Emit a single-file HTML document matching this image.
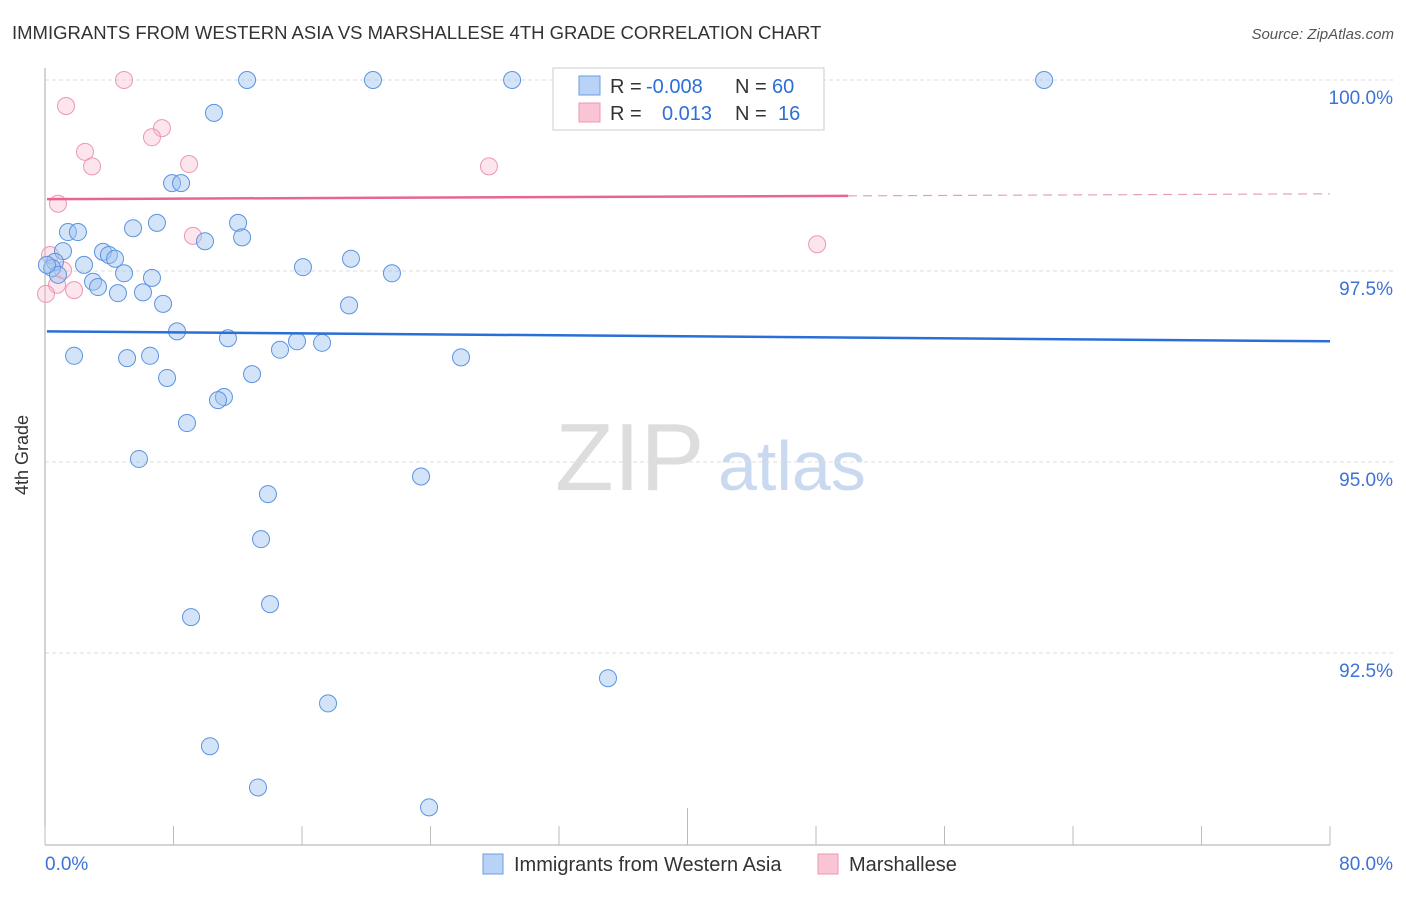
<!DOCTYPE html>
<html><head><meta charset="utf-8"><style>
body{margin:0;background:#fff;font-family:"Liberation Sans",sans-serif;}
svg text{font-family:"Liberation Sans",sans-serif;}
</style></head><body>
<svg id="chart" width="1406" height="892">
<text x="12" y="39" font-size="18.5" fill="#333">IMMIGRANTS FROM WESTERN ASIA VS MARSHALLESE 4TH GRADE CORRELATION CHART</text>
<text x="1394" y="39" font-size="15" fill="#555" font-style="italic" text-anchor="end">Source: ZipAtlas.com</text>
<text x="28" y="455" font-size="18" fill="#333" text-anchor="middle" transform="rotate(-90 28 455)">4th Grade</text>
<g><text x="555" y="490" font-size="96" fill="#ddd" font-family="Liberation Serif">ZIP</text><text x="718" y="490" font-size="70" fill="#c9daf0">atlas</text></g>
<g id="grid"></g><g id="axes"></g><g id="pts"></g><g id="trend"></g>
<g>
<rect x="553" y="68" width="271" height="62" fill="#fff" stroke="#ccc"/>
<rect x="579" y="76" width="21" height="19" fill="#b8d3f5" stroke="#6a9ee0"/>
<rect x="579" y="103" width="21" height="19" fill="#f9c4d3" stroke="#ec98b0"/>
<text y="93" font-size="20" fill="#333"><tspan x="610">R =</tspan><tspan x="646" fill="#2d6fd8">-0.008</tspan><tspan x="735">N =</tspan><tspan x="772" fill="#2d6fd8">60</tspan></text>
<text y="120" font-size="20" fill="#333"><tspan x="610">R =</tspan><tspan x="662" fill="#2d6fd8">0.013</tspan><tspan x="735">N =</tspan><tspan x="778" fill="#2d6fd8">16</tspan></text>
</g>
<g>
<rect x="483" y="854" width="20" height="20" fill="#b8d3f5" stroke="#6a9ee0"/>
<text x="514" y="871" font-size="20" fill="#333">Immigrants from Western Asia</text>
<rect x="818" y="854" width="20" height="20" fill="#f9c4d3" stroke="#ec98b0"/>
<text x="849" y="871" font-size="20" fill="#333">Marshallese</text>
</g>
</svg>
<script>
const blueX=[12.58,20.42,29.08,42.34,62.20,10.52,7.91,8.47,5.48,6.97,12.02,1.43,2.05,9.96,12.27,1.12,3.61,3.98,4.36,2.43,0.62,0.44,0.81,16.06,19.05,21.60,4.92,6.66,2.99,3.30,4.54,6.10,7.35,18.93,8.22,11.39,15.69,17.25,1.81,5.11,6.54,14.63,25.90,7.60,12.89,11.14,10.77,8.84,5.85,23.41,13.88,13.45,14.01,9.09,35.05,17.62,10.27,13.26,23.91,0.12];
const blueY=[100.0,100.0,100.0,100.0,100.0,99.57,98.65,98.65,98.06,98.13,98.13,98.01,98.01,97.89,97.94,97.76,97.75,97.71,97.66,97.58,97.62,97.54,97.45,97.55,97.66,97.47,97.47,97.41,97.36,97.29,97.21,97.22,97.07,97.05,96.71,96.62,96.58,96.56,96.39,96.36,96.39,96.47,96.37,96.10,96.15,95.85,95.81,95.51,95.04,94.81,94.58,93.99,93.14,92.97,92.17,91.84,91.28,90.74,90.48,97.58];
const pinkX=[4.92,1.31,7.28,6.66,2.49,2.93,8.97,27.64,0.81,9.21,48.07,0.31,1.12,0.75,1.81,0.06];
const pinkY=[100.0,99.66,99.37,99.25,99.06,98.87,98.90,98.87,98.38,97.96,97.85,97.71,97.51,97.32,97.25,97.20];
const yTicks=[100.0,97.5,95.0,92.5];
const yTickLabels=["100.0%","97.5%","95.0%","92.5%"];
const xTicks=[0,8,16,24,32,40,48,56,64,72,80];
const xEndLabels=["0.0%","80.0%"];
const blueTrend=[96.71,96.58];
const pinkTrend=[98.44,98.51];
const pinkSolidEnd=50.0;
const NS="http://www.w3.org/2000/svg";
function sx(v){return 45+v*1285/80;}
function sy(v){return 80+(100-v)*191/2.5;}
function mk(tag,attrs,parent){const e=document.createElementNS(NS,tag);for(const k in attrs)e.setAttribute(k,attrs[k]);document.getElementById(parent).appendChild(e);return e;}
yTicks.forEach((t,i)=>{
 const g=mk('line',{x1:45,x2:1393,y1:sy(t),y2:sy(t),stroke:'#ddd','stroke-dasharray':'4,3'},'grid');
 
 
 const l=mk('text',{x:1393,y:sy(t)+24,'font-size':19,fill:'#3d72d6','text-anchor':'end'},'grid');
 l.textContent=yTickLabels[i];
 
 
});
let a=mk('line',{x1:45,x2:45,y1:68,y2:845,stroke:'#aaa'},'axes');


a=mk('line',{x1:45,x2:1330,y1:845,y2:845,stroke:'#aaa'},'axes');


xTicks.forEach((t,i)=>{
 const k=mk('line',{x1:sx(t),x2:sx(t),y1:(i==5?808:826),y2:845,stroke:'#bbb'},'axes');
 
 
});
let xl=mk('text',{x:45,y:870,'font-size':19,fill:'#3d72d6'},'axes');xl.textContent=xEndLabels[0];


xl=mk('text',{x:1393,y:870,'font-size':19,fill:'#3d72d6','text-anchor':'end'},'axes');xl.textContent=xEndLabels[1];


pinkX.forEach((x,i)=>{
 const c=mk('circle',{cx:sx(x),cy:sy(pinkY[i]),r:8.5,fill:'rgba(247,180,200,0.35)',stroke:'#ec98b0','stroke-width':1},'pts');
 
 
});
blueX.forEach((x,i)=>{
 const c=mk('circle',{cx:sx(x),cy:sy(blueY[i]),r:8.5,fill:'rgba(160,196,240,0.45)',stroke:'#5b93e0','stroke-width':1},'pts');
 
 
});
function lerp(tr,x){return tr[0]+(tr[1]-tr[0])*x/80;}
let t=mk('line',{x1:sx(0.12),x2:sx(80),y1:sy(lerp(blueTrend,0.12)),y2:sy(blueTrend[1]),stroke:'#2a6fd6','stroke-width':2.5},'trend');


t=mk('line',{x1:sx(0.12),x2:sx(pinkSolidEnd),y1:sy(lerp(pinkTrend,0.12)),y2:sy(lerp(pinkTrend,pinkSolidEnd)),stroke:'#e8668e','stroke-width':2.5},'trend');


t=mk('line',{x1:sx(pinkSolidEnd),x2:sx(80),y1:sy(lerp(pinkTrend,pinkSolidEnd)),y2:sy(pinkTrend[1]),stroke:'#e8a0b6','stroke-width':1.2,'stroke-dasharray':'9,6'},'trend');


</script>
</body></html>
